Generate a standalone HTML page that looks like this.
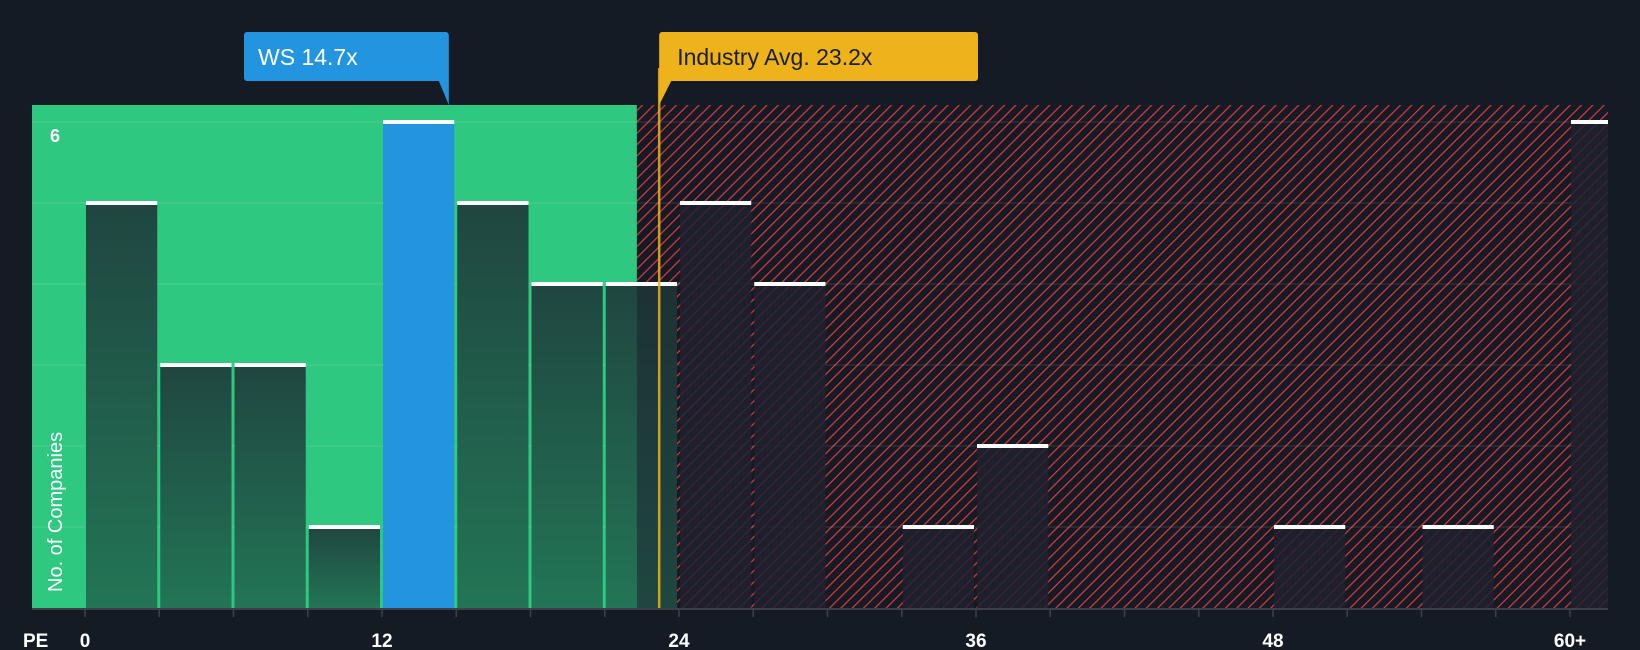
<!DOCTYPE html>
<html><head><meta charset="utf-8"><style>
body{margin:0;background:#151b24;}
svg{display:block;font-family:"Liberation Sans",sans-serif;}
</style></head><body>
<svg id="chart" width="1640" height="650">
<defs>
<pattern id="hatch" patternUnits="userSpaceOnUse" width="8" height="8" patternTransform="rotate(45)">
<rect width="8" height="8" fill="#151b24"/>
<line x1="0" y1="0" x2="0" y2="8" stroke="#e0393e" stroke-width="2.4"/>
</pattern>
<linearGradient id="gbar" x1="0" y1="0" x2="0" y2="1">
<stop offset="0" stop-color="#1f4640"/><stop offset="1" stop-color="#237556"/>
</linearGradient>
</defs>
<g id="bg"></g>
<g id="bars"></g>
<g id="axis"></g>
<g id="labels"></g>
</svg>
<script>
const binStarts=[0,3,6,9,12,15,18,21,24,27,30,33,36,39,42,45,48,51,54,57,60];
const counts=[5,3,3,1,6,5,4,4,5,4,0,1,2,0,0,0,1,0,1,0,6];
const highlightBin=4;
const tickLabels=["0","12","24","36","48","60+"];
const tickValues=[0,12,24,36,48,60];
const yMaxLabel=6;
const companyPE=14.7;
const industryPE=23.2;
const greenLimit=22.3;
const NS="http://www.w3.org/2000/svg";
const L=32,R=1608,T=105,B=608;
const x=v=>85+v*24.75;
const y=v=>B-v*81;
function mk(tag,attrs,parent){const e=document.createElementNS(NS,tag);for(const k in attrs)e.setAttribute(k,attrs[k]);parent.appendChild(e);return e;}
const bg=document.getElementById('bg'),bars=document.getElementById('bars'),ax=document.getElementById('axis'),lb=document.getElementById('labels');
const gx=x(greenLimit);
let r=mk('rect',{x:L,y:T,width:gx-L,height:B-T,fill:'#2ec880'},bg);


r=mk('rect',{x:gx,y:T,width:R-gx,height:B-T,fill:'url(#hatch)'},bg);


for(let i=1;i<=6;i++){const g=mk('line',{x1:L,x2:R,y1:y(i),y2:y(i),stroke:'rgba(255,255,255,0.09)','stroke-width':1.5},bg);

}
binStarts.forEach((s,i)=>{
 const c=counts[i]; if(!c)return;
 const x0=x(s)+1, x1=Math.min(x(s+3)-2,R);
 let fill;
 if(i===highlightBin) fill='#2394e0';
 else if(x0<gx) fill='url(#gbar)';
 else fill='rgba(30,33,46,0.85)';
 const b=mk('rect',{x:x0,y:y(c),width:x1-x0,height:B-y(c),fill:fill},bars);
 
 
 if(x0<gx && x1>gx && i!==highlightBin){mk('rect',{x:gx,y:y(c),width:x1-gx,height:B-y(c),fill:'rgba(30,33,46,0.55)'},bars);}
 const cap=mk('rect',{x:x0,y:y(c)-2,width:x1-x0,height:4,fill:'#ffffff'},bars);
 
 
});
let ln=mk('line',{x1:x(industryPE),x2:x(industryPE),y1:68,y2:B,stroke:'#eeb21a','stroke-width':2.5,opacity:0.85},ax);


ln=mk('line',{x1:L,x2:R,y1:B+1,y2:B+1,stroke:'#3b4049','stroke-width':2},ax);


for(let v=0;v<=60;v+=3){const t=mk('line',{x1:x(v),x2:x(v),y1:B,y2:B+9,stroke:'#3b4049','stroke-width':1.5},ax);

}
tickValues.forEach((v,i)=>{const t=mk('text',{x:x(v),y:647,fill:'#fff','font-size':19,'font-weight':'bold','text-anchor':'middle'},ax);t.textContent=tickLabels[i];

});
let t=mk('text',{x:23,y:647,fill:'#fff','font-size':19,'font-weight':'bold'},ax);t.textContent='PE';


t=mk('text',{x:50,y:y(6)+20,fill:'#fff','font-size':18,'font-weight':'bold'},ax);t.textContent=String(yMaxLabel);


t=mk('text',{x:0,y:0,fill:'#fff','font-size':20,transform:'translate(62,592) rotate(-90)'},ax);t.textContent='No. of Companies';


// company label
const cx=x(companyPE);
let p=mk('path',{d:`M244 35 a3 3 0 0 1 3 -3 H${cx-3} a3 3 0 0 1 3 3 V${T} L${cx-10} 81 H247 a3 3 0 0 1 -3 -3 Z`,fill:'#2394e0'},lb);


t=mk('text',{x:258,y:65,fill:'#fff','font-size':23},lb);t.textContent='WS '+companyPE+'x';


const ix=x(industryPE);
p=mk('path',{d:`M${ix} 35 a3 3 0 0 1 3 -3 H975 a3 3 0 0 1 3 3 V78 a3 3 0 0 1 -3 3 H${ix+12} L${ix} ${T} Z`,fill:'#eeb21a'},lb);


t=mk('text',{x:ix+18,y:65,fill:'#1b1f27','font-size':23},lb);t.textContent='Industry Avg. '+industryPE+'x';


</script>
</body></html>
